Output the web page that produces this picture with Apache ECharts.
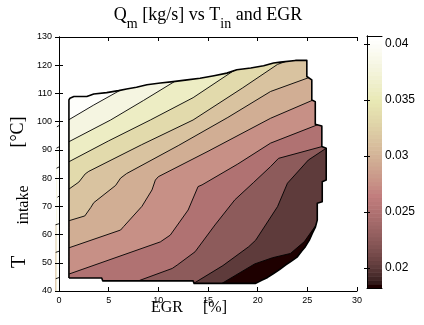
<!DOCTYPE html>
<html><head><meta charset="utf-8">
<script src="https://cdn.jsdelivr.net/npm/echarts@6/dist/echarts.min.js"></script>
<style>html,body{margin:0;padding:0;background:#fff}#c{width:424px;height:325px}</style>
</head><body><div id="c"></div>
<script>
// ---- data (EGR [%], T_intake [°C]); contour levels of Q_m [kg/s] ----
const levels = [0.018, 0.020, 0.0225, 0.025, 0.0275, 0.0295, 0.0315, 0.0335, 0.036, 0.038, 0.040];
const lineA = [[16.4,42.7],[19.7,49.6],[21.5,51.8],[23.3,53.3],[24.7,57.5],[26.0,64.0]];
const lineB = [[13.7,43.0],[16.5,49.0],[19.1,55.7],[19.8,58.0],[22.0,69.9],[23.0,78.2],[25.1,86.4],[26.9,90.6]];
const lineC = [[8.0,43.6],[11.4,48.0],[11.9,49.2],[13.7,53.9],[15.7,63.4],[17.7,72.3],[19.6,78.5],[21.3,84.1],[22.1,87.0],[26.5,91.2]];
const lineD = [[1.0,46.0],[10.2,57.4],[11.2,59.8],[13.0,68.7],[14.0,77.0],[14.4,77.6],[18.0,85.0],[21.3,92.4],[26.1,99.0]];
const lineE = [[1.0,55.3],[6.2,61.6],[6.5,62.8],[8.35,70.0],[9.36,75.8],[9.7,79.3],[10.0,80.5],[15.0,89.5],[21.3,101.2],[25.6,107.7]];
const lineF = [[1.0,64.9],[2.6,66.6],[3.2,69.6],[3.5,71.3],[5.7,77.4],[6.2,80.0],[6.8,81.6],[12.0,91.5],[17.0,101.5],[21.3,110.7],[25.3,115.8]];
const lineG = [[1.0,76.1],[2.0,78.6],[2.64,81.5],[3.0,82.4],[8.3,91.8],[13.5,100.6],[18.5,112.0],[22.0,120.3],[23.6,122.3]];
const lineH = [[1.0,85.8],[5.0,93.2],[9.2,100.6],[13.5,108.5],[17.9,118.8]];
const lineI = [[1.0,92.9],[5.2,100.6],[8.5,107.5],[11.9,114.8]];
const lineJ = [[1.0,100.7],[3.5,105.9],[6.4,111.6]];
const contourLines = [lineA, lineB, lineC, lineD, lineE, lineF, lineG, lineH, lineI, lineJ];
const domain = [[1.0,44.6],[4.3,44.6],[4.4,43.6],[13.5,43.6],[13.6,42.7],[19.8,42.7],
 [20.4,43.8],[21.0,44.8],[21.6,46.2],[22.2,47.6],[22.8,49.2],[23.4,50.6],[24.0,52.1],[24.4,54.0],[24.8,55.7],
 [25.2,58.0],[25.5,60.4],[25.8,62.5],[26.0,65.1],[26.0,71.1],[26.5,71.6],[26.5,78.7],[26.9,79.3],[26.9,90.6],
 [26.46,91.2],[26.46,98.5],[25.8,99.1],[25.8,107.1],[25.45,107.7],[25.45,114.8],[24.95,116.0],[24.95,121.7],
 [23.8,121.7],[22.3,121.1],[21.6,120.8],[20.6,119.8],[19.3,119.0],[17.9,118.4],[16.9,117.2],[15.6,116.3],
 [14.2,115.4],[12.9,114.8],[11.5,114.2],[10.2,113.7],[8.85,113.1],[7.8,112.2],[6.8,111.6],[6.0,111.0],
 [4.8,110.3],[3.5,109.8],[2.8,108.9],[1.5,108.9],[1.1,108.3],[1.0,107.7]];
const cbarTicks = [0.02, 0.025, 0.03, 0.035, 0.04];
const cMin = 0.0182, cMax = 0.0407;
const xRange = [0, 30], yRange = [40, 130];

// ---- MATLAB "pink" colormap ----
function pinkMap(m) {
  const n = Math.floor(3 / 8 * m), out = [];
  for (let i = 0; i < m; i++) {
    const g = i / (m - 1);
    const r = i < n ? (i + 1) / n : 1;
    const gg = i < n ? 0 : (i < 2 * n ? (i - n + 1) / n : 1);
    const b = i < 2 * n ? 0 : (i - 2 * n + 1) / (m - 2 * n);
    const f = v => Math.round(255 * Math.sqrt((2 * g + v) / 3));
    out.push('rgb(' + f(r) + ',' + f(gg) + ',' + f(b) + ')');
  }
  return out;
}
const cmap = pinkMap(64);
function colorOf(v) {
  let i = Math.floor((v - cMin) / (cMax - cMin) * 64);
  return cmap[Math.max(0, Math.min(63, i))];
}

function extend(pts) {
  const p = pts.slice();
  const ext = (a, b) => {
    const dx = (b[0] - a[0]) * 9.93, dy = (b[1] - a[1]) * 2.82;
    const len = Math.hypot(dx, dy) || 1;
    return [b[0] + dx / len * 14 / 9.93, b[1] + dy / len * 14 / 2.82];
  };
  const s = ext(p[1], p[0]), e = ext(p[p.length - 2], p[p.length - 1]);
  return [s].concat(p, [e]);
}

const chart = echarts.init(document.getElementById('c'), null, {renderer: 'canvas'});

function fillRender(params, api) {
  const k = params.dataIndex;
  const col = colorOf(levels[k]);
  let poly;
  if (k === 0) {
    poly = [[xRange[0], yRange[0]], [xRange[1], yRange[0]], [xRange[1], yRange[1]], [xRange[0], yRange[1]]];
  } else {
    const ln = extend(contourLines[k - 1]);
    poly = ln.concat([[xRange[1], yRange[1]], [xRange[0], yRange[1]], [xRange[0], yRange[0]], [ln[0][0], yRange[0]]]);
  }
  return {type: 'polygon', z2: k, shape: {points: poly.map(p => api.coord(p))}, style: {fill: col, stroke: null}};
}
function lineRender(params, api) {
  const ln = extend(contourLines[params.dataIndex]);
  return {type: 'polyline', shape: {points: ln.map(p => api.coord(p))}, style: {stroke: '#000', lineWidth: 0.9, fill: null}};
}
function signedArea(pts) {
  let a = 0;
  for (let i = 0; i < pts.length; i++) { const p = pts[i], q = pts[(i + 1) % pts.length]; a += p[0] * q[1] - q[0] * p[1]; }
  return a;
}
function maskRender(params, api) {
  const rect = [[xRange[0], yRange[0]], [xRange[1], yRange[0]], [xRange[1], yRange[1]], [xRange[0], yRange[1]]].map(p => api.coord(p));
  let dom = domain.map(p => api.coord(p));
  if (Math.sign(signedArea(rect)) === Math.sign(signedArea(dom))) dom = dom.slice().reverse();
  const toPath = pts => 'M' + pts.map(p => p[0].toFixed(2) + ' ' + p[1].toFixed(2)).join(' L') + ' Z';
  return {type: 'path', shape: {pathData: toPath(rect) + ' ' + toPath(dom)}, style: {fill: '#fff', stroke: null}};
}
function boundaryRender(params, api) {
  const pts = domain.map(p => api.coord(p));
  pts.push(pts[0]);
  return {type: 'polyline', shape: {points: pts}, style: {stroke: '#000', lineWidth: 1.6, fill: null, lineJoin: 'round'}};
}
function cbarRender(params, api) {
  const i = params.dataIndex;
  const lo = cMin + (cMax - cMin) * i / 64, hi = cMin + (cMax - cMin) * (i + 1) / 64;
  const p0 = api.coord([0, lo]), p1 = api.coord([1, hi]);
  return {type: 'rect', shape: {x: p0[0], y: p1[1], width: p1[0] - p0[0], height: p0[1] - p1[1] + 0.6}, style: {fill: cmap[i], stroke: null}};
}

const tickFont = {fontFamily: 'Liberation Sans, Arial, sans-serif', fontSize: 9, color: '#000'};
const axisLine = {show: true, lineStyle: {color: '#000', width: 1}};
const serif = 'Liberation Serif, Times New Roman, serif';

chart.setOption({
  animation: false,
  backgroundColor: '#fff',
  grid: [
    {left: 59, top: 37, width: 298, height: 254, containLabel: false},
    {left: 367, top: 36, width: 15, height: 252, containLabel: false}
  ],
  xAxis: [
    {gridIndex: 0, type: 'value', min: 0, max: 30, interval: 5, position: 'bottom', z: 10,
     axisLine: axisLine, axisTick: {inside: true, length: 4, lineStyle: {color: '#000'}},
     axisLabel: Object.assign({margin: 5}, tickFont), splitLine: {show: false}},
    {gridIndex: 0, type: 'value', min: 0, max: 30, interval: 5, position: 'top', z: 10,
     axisLine: axisLine, axisTick: {inside: true, length: 4, lineStyle: {color: '#000'}},
     axisLabel: {show: false}, splitLine: {show: false}},
    {gridIndex: 1, type: 'value', min: 0, max: 1, position: 'bottom', z: 10,
     axisLine: axisLine, axisTick: {show: false}, axisLabel: {show: false}, splitLine: {show: false}},
    {gridIndex: 1, type: 'value', min: 0, max: 1, position: 'top', z: 10,
     axisLine: axisLine, axisTick: {show: false}, axisLabel: {show: false}, splitLine: {show: false}}
  ],
  yAxis: [
    {gridIndex: 0, type: 'value', min: 40, max: 130, interval: 10, position: 'left', z: 10,
     axisLine: axisLine, axisTick: {inside: true, length: 4, lineStyle: {color: '#000'}},
     axisLabel: Object.assign({margin: 7}, tickFont), splitLine: {show: false}},
    {gridIndex: 0, type: 'value', min: 40, max: 130, interval: 10, position: 'right', z: 10,
     axisLine: axisLine, axisTick: {inside: true, length: 4, lineStyle: {color: '#000'}},
     axisLabel: {show: false}, splitLine: {show: false}},
    {gridIndex: 1, type: 'value', min: cMin, max: cMax, position: 'right', z: 10,
     axisLine: axisLine,
     axisTick: {inside: true, length: 3, customValues: cbarTicks, lineStyle: {color: '#000'}},
     axisLabel: {margin: 3, customValues: cbarTicks, fontFamily: 'Liberation Sans, Arial, sans-serif', fontSize: 12, color: '#000'},
     splitLine: {show: false}},
    {gridIndex: 1, type: 'value', min: cMin, max: cMax, position: 'left', z: 10,
     axisLine: axisLine,
     axisTick: {inside: true, length: 3, customValues: cbarTicks, lineStyle: {color: '#000'}},
     axisLabel: {show: false}, splitLine: {show: false}}
  ],
  series: [
    {type: 'custom', xAxisIndex: 0, yAxisIndex: 0, z: 2, clip: false, data: levels.map((v, i) => i), renderItem: fillRender, silent: true},
    {type: 'custom', xAxisIndex: 0, yAxisIndex: 0, z: 3, clip: false, data: contourLines.map((c, i) => i), renderItem: lineRender, silent: true},
    {type: 'custom', xAxisIndex: 0, yAxisIndex: 0, z: 4, clip: false, data: [0], renderItem: maskRender, silent: true},
    {type: 'custom', xAxisIndex: 0, yAxisIndex: 0, z: 5, clip: false, data: [0], renderItem: boundaryRender, silent: true},
    {type: 'custom', xAxisIndex: 2, yAxisIndex: 2, z: 2, clip: false, data: cmap.map((c, i) => i), renderItem: cbarRender, silent: true}
  ],
  graphic: [
    {type: 'text', x: 208, y: 6, z: 20, style: {
      text: '{a|Q}{b|m}{a| [kg/s] vs T}{b|in}{a| and EGR}', textAlign: 'center', textVerticalAlign: 'top',
      rich: {a: {fontFamily: serif, fontSize: 18, lineHeight: 25, verticalAlign: 'top', fill: '#000'},
             b: {fontFamily: serif, fontSize: 14, lineHeight: 14, verticalAlign: 'bottom', fill: '#000'}}}},
    {type: 'text', x: 189, y: 300, z: 20, style: {
      text: 'EGR     [%]', textAlign: 'center', textVerticalAlign: 'top', fontFamily: serif, fontSize: 16, fill: '#000'}},
    {type: 'text', x: 20, y: 262, z: 20, rotation: Math.PI / 2, style: {
      text: 'T', textAlign: 'center', textVerticalAlign: 'middle', fontFamily: serif, fontSize: 20, fill: '#000'}},
    {type: 'text', x: 23.5, y: 205, z: 20, rotation: Math.PI / 2, style: {
      text: 'intake', textAlign: 'center', textVerticalAlign: 'middle', fontFamily: serif, fontSize: 16, fill: '#000'}},
    {type: 'text', x: 18.5, y: 132, z: 20, rotation: Math.PI / 2, style: {
      text: '[°C]', textAlign: 'center', textVerticalAlign: 'middle', fontFamily: serif, fontSize: 18, fill: '#000'}}
  ]
});
</script></body></html>
